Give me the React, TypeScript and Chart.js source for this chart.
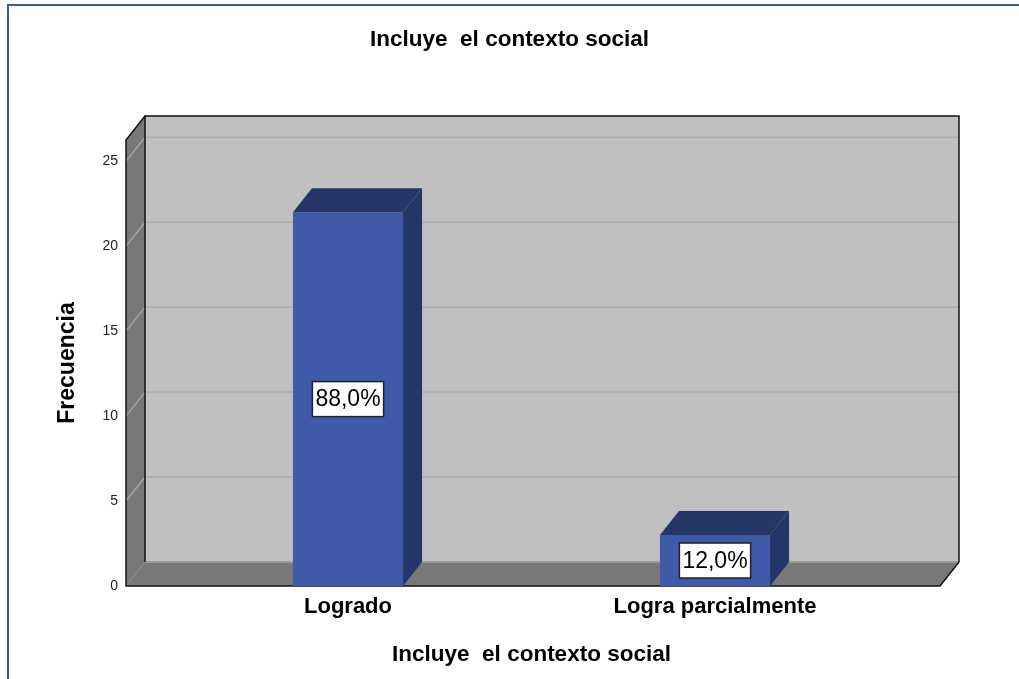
import React, { useEffect, useRef } from "react";
import { Chart, registerables } from "chart.js";

Chart.register(...registerables);

const chartTitle = "Incluye  el contexto social";
const xAxisTitle = "Incluye  el contexto social";
const yAxisTitle = "Frecuencia";
const categories = ["Logrado", "Logra parcialmente"];
const frequencies = [22, 3];
const percentLabels = ["88,0%", "12,0%"];
const yTickValues = [0, 5, 10, 15, 20, 25];
const yMax = 26.25;

const FONT = "'Liberation Sans', Arial, sans-serif";
const DX = 19;
const DY = 24;
const EXT_L = 38.5;
const EXT_R = 41.5;

const poly = (ctx: CanvasRenderingContext2D, pts: number[][]) => {
  ctx.beginPath();
  ctx.moveTo(pts[0][0], pts[0][1]);
  for (let i = 1; i < pts.length; i++) ctx.lineTo(pts[i][0], pts[i][1]);
  ctx.closePath();
};

const frame3d = {
  id: "frame3d",
  beforeDatasetsDraw(chart: any) {
    const { ctx, chartArea: a, scales } = chart;
    const y = scales.y;
    const fl = a.left - EXT_L;
    const fr = a.right + EXT_R;
    const top = a.top;
    const bot = a.bottom;
    ctx.save();
    ctx.fillStyle = "#c0c0c0";
    ctx.fillRect(fl + DX, top - DY, fr - fl, bot - top);
    ctx.fillStyle = "#787878";
    poly(ctx, [[fl, bot], [fl, top], [fl + DX, top - DY], [fl + DX, bot - DY]]);
    ctx.fill();
    poly(ctx, [[fl, bot], [fl + DX, bot - DY], [fr + DX, bot - DY], [fr, bot]]);
    ctx.fill();
    ctx.lineWidth = 1.5;
    y.ticks.forEach((t: any) => {
      if (t.value === 0) return;
      const py = y.getPixelForValue(t.value);
      ctx.strokeStyle = "#a4a4a4";
      ctx.beginPath();
      ctx.moveTo(fl, py);
      ctx.lineTo(fl + DX, py - DY);
      ctx.stroke();
      ctx.strokeStyle = "#adadad";
      ctx.beginPath();
      ctx.moveTo(fl + DX, py - DY);
      ctx.lineTo(fr + DX, py - DY);
      ctx.stroke();
    });
    ctx.strokeStyle = "#9a9a9a";
    ctx.lineWidth = 2;
    ctx.beginPath();
    ctx.moveTo(fl + DX, bot - DY);
    ctx.lineTo(fr + DX, bot - DY);
    ctx.stroke();
    ctx.strokeStyle = "#111";
    ctx.lineWidth = 1.5;
    ctx.beginPath();
    ctx.moveTo(fl + DX, bot - DY);
    ctx.lineTo(fl + DX, top - DY);
    ctx.lineTo(fr + DX, top - DY);
    ctx.lineTo(fr + DX, bot - DY);
    ctx.stroke();
    ctx.beginPath();
    ctx.moveTo(fl + DX, top - DY);
    ctx.lineTo(fl, top);
    ctx.lineTo(fl, bot);
    ctx.lineTo(fr, bot);
    ctx.lineTo(fr + DX, bot - DY);
    ctx.stroke();
    ctx.restore();
  },
  afterDatasetsDraw(chart: any) {
    const { ctx } = chart;
    const meta = chart.getDatasetMeta(0);
    ctx.save();
    meta.data.forEach((bar: any, i: number) => {
      const { x, y, base, width } = bar.getProps(["x", "y", "base", "width"], true);
      const x0 = x - width / 2;
      const x1 = x + width / 2;
      ctx.fillStyle = "#263667";
      poly(ctx, [[x0, y], [x0 + DX, y - DY], [x1 + DX, y - DY], [x1, y]]);
      ctx.fill();
      ctx.fillStyle = "#24356a";
      poly(ctx, [[x1, y], [x1 + DX, y - DY], [x1 + DX, base - DY], [x1, base]]);
      ctx.fill();
      const label = percentLabels[i];
      ctx.font = `500 23px ${FONT}`;
      const tw = ctx.measureText(label).width;
      const cy = (y + base) / 2;
      const bw = tw + 6;
      const bh = 35;
      ctx.fillStyle = "#ffffff";
      ctx.fillRect(x - bw / 2, cy - bh / 2, bw, bh);
      ctx.strokeStyle = "#222";
      ctx.lineWidth = 1.5;
      ctx.strokeRect(x - bw / 2, cy - bh / 2, bw, bh);
      ctx.fillStyle = "#000";
      ctx.textAlign = "center";
      ctx.textBaseline = "middle";
      ctx.fillText(label, x, cy + 1);
    });
    ctx.restore();
  },
};

export default function App() {
  const ref = useRef<HTMLCanvasElement | null>(null);
  useEffect(() => {
    if (!ref.current) return;
    const chart = new Chart(ref.current, {
      type: "bar",
      data: {
        labels: categories,
        datasets: [
          {
            label: yAxisTitle,
            data: frequencies,
            backgroundColor: "#3f5aa8",
            borderWidth: 0,
            barPercentage: 1,
            categoryPercentage: 0.3,
            yAxisID: "y",
          },
        ],
      },
      options: {
        animation: false,
        responsive: false,
        maintainAspectRatio: false,
        layout: { padding: { left: 0, right: 0, top: 0, bottom: 0 } },
        plugins: {
          legend: { display: false },
          tooltip: { enabled: false },
          title: {
            display: true,
            text: chartTitle,
            color: "#000",
            font: { family: FONT, size: 22.5, weight: "bold", lineHeight: 1.2 },
            padding: { top: 26, bottom: 87 },
          },
        },
        scales: {
          x: {
            grid: { display: false, drawTicks: false },
            border: { display: false },
            ticks: {
              color: "#000",
              padding: 8,
              font: { family: FONT, size: 22, weight: "bold" },
            },
            title: {
              display: true,
              text: xAxisTitle,
              color: "#000",
              font: { family: FONT, size: 22.5, weight: "bold", lineHeight: 1.2 },
              padding: { top: 0, bottom: 11 },
            },
            afterFit: (scale: any) => {
              scale.height = 93;
            },
          },
          y: {
            position: "left",
            min: 0,
            max: yMax,
            grid: { display: false, drawTicks: false },
            border: { display: false },
            ticks: {
              stepSize: 5,
              includeBounds: false,
              color: "#222",
              padding: 46.5,
              font: { family: FONT, size: 14 },
            },
            afterBuildTicks: (scale: any) => {
              scale.ticks = yTickValues.map((v) => ({ value: v }));
            },
            title: {
              display: true,
              text: yAxisTitle,
              color: "#000",
              font: { family: FONT, size: 23, weight: "bold", lineHeight: 1.2 },
              padding: { top: 54, bottom: 0 },
            },
            afterFit: (scale: any) => {
              scale.width = 164.5;
            },
          },
          yRight: {
            position: "right",
            display: true,
            min: 0,
            max: yMax,
            grid: { display: false, drawTicks: false },
            border: { display: false },
            ticks: { display: false },
            afterFit: (scale: any) => {
              scale.width = 120.5;
            },
          },
        },
      },
      plugins: [frame3d],
    });
    return () => chart.destroy();
  }, []);

  return (
    <div
      style={{
        position: "fixed",
        left: 0,
        top: 0,
        width: 1019,
        height: 679,
        background: "#fff",
        overflow: "hidden",
      }}
    >
      <canvas ref={ref} width={1019} height={679} style={{ position: "absolute", left: 0, top: 0 }} />
      <div style={{ position: "absolute", left: 7, top: 4, width: 2, height: 675, background: "#3a5f96" }} />
      <div style={{ position: "absolute", left: 7, top: 4, width: 1012, height: 2, background: "#3a5f96" }} />
    </div>
  );
}
